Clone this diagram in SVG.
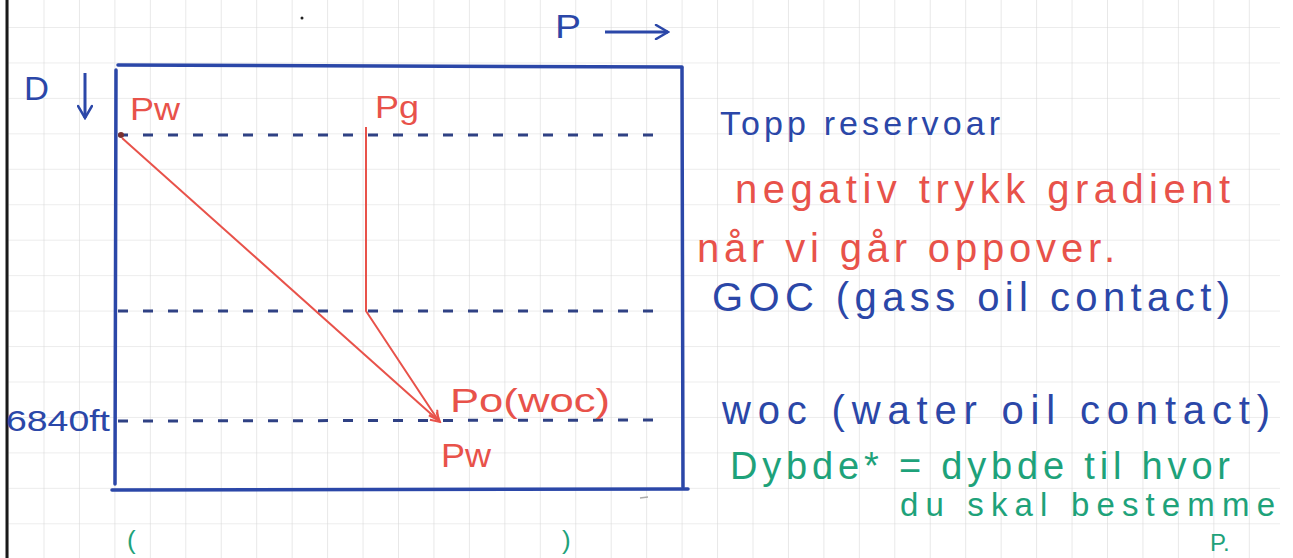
<svg xmlns="http://www.w3.org/2000/svg" width="1293" height="558" viewBox="0 0 1293 558">
<defs>
<pattern id="grid" patternUnits="userSpaceOnUse" x="8.05" y="-8.45" width="35.45" height="35.45">
<path d="M0 0H35.45M0 0V35.45" fill="none" stroke="#d9d9d9" stroke-width="1.2"/>
</pattern>
<marker id="ahRed" viewBox="0 0 12 12" refX="10" refY="6" markerWidth="12" markerHeight="12" markerUnits="userSpaceOnUse" orient="auto">
<path d="M1 1L10 6L1 11" fill="none" stroke="#e8524a" stroke-width="2"/>
</marker>
<marker id="ahBlue" viewBox="0 0 16 16" refX="14" refY="8" markerWidth="16" markerHeight="16" markerUnits="userSpaceOnUse" orient="auto">
<path d="M2 1L14 8L2 15" fill="none" stroke="#2b47a8" stroke-width="2.5" stroke-linecap="round"/>
</marker>
</defs>
<style>
text{font-family:"Liberation Sans","DejaVu Sans",sans-serif}
.blue{fill:#2b47a8}
.red{fill:#e8524a}
.green{fill:#1ea27a}
.box{stroke:#2b47a8;stroke-width:3.5;fill:none;stroke-linecap:round}
.dash{stroke:#2f4184;stroke-width:3;stroke-dasharray:10 15;fill:none}
.redl{stroke:#e8524a;stroke-width:2;fill:none}
</style>
<rect width="1293" height="558" fill="#ffffff"/>
<rect x="8" y="0" width="1272" height="558" fill="url(#grid)"/>
<line x1="7" y1="0" x2="7" y2="558" stroke="#1a1a1a" stroke-width="3"/>
<circle cx="302" cy="18" r="1.5" fill="#222"/>
<line x1="640" y1="498" x2="648" y2="497" stroke="#aaa" stroke-width="1.5"/>

<g id="reservoir-box">
<line class="box" x1="118" y1="65" x2="682" y2="67"/>
<line class="box" x1="116" y1="70" x2="115" y2="484"/>
<line class="box" x1="682" y1="68" x2="683" y2="487"/>
<line class="box" x1="112" y1="490" x2="688" y2="489"/>
</g>

<g id="axis-p">
<text class="blue" x="555" y="38" font-size="34" textLength="26" lengthAdjust="spacingAndGlyphs">P</text>
</g>
<g id="axis-d">
<text class="blue" x="24" y="100" font-size="34" textLength="25" lengthAdjust="spacingAndGlyphs">D</text>
</g>

<g id="level-top">
<line class="dash" x1="118" y1="135" x2="668" y2="135"/>
<circle cx="121" cy="135" r="3" fill="#7a3030"/>
</g>
<g id="level-goc">
<line class="dash" x1="118" y1="311" x2="668" y2="311"/>
</g>
<g id="level-woc">
<line class="dash" x1="118" y1="421" x2="668" y2="420"/>
<text class="blue" x="6" y="431" font-size="30" textLength="104" lengthAdjust="spacingAndGlyphs">6840ft</text>
</g>

<g id="label-pw-top">
<text class="red" x="130" y="120" font-size="32" textLength="50" lengthAdjust="spacingAndGlyphs">Pw</text>
</g>
<g id="label-pg">
<text class="red" x="375" y="118" font-size="32" textLength="44" lengthAdjust="spacingAndGlyphs">Pg</text>
</g>
<g id="label-po">
<text class="red" x="450" y="412" font-size="34" textLength="160" lengthAdjust="spacingAndGlyphs">Po(woc)</text>
</g>
<g id="label-pw-bottom">
<text class="red" x="441" y="467" font-size="34" textLength="50" lengthAdjust="spacingAndGlyphs">Pw</text>
</g>

<g id="connectors">
<line x1="605" y1="32" x2="668" y2="32" stroke="#2b47a8" stroke-width="3" marker-end="url(#ahBlue)"/>
<line x1="85" y1="73" x2="85" y2="118" stroke="#2b47a8" stroke-width="3" marker-end="url(#ahBlue)"/>
<line class="redl" x1="122" y1="138" x2="440" y2="422" marker-end="url(#ahRed)"/>
<polyline class="redl" points="366,127 366,311 438,420" marker-end="url(#ahRed)"/>
</g>

<g id="notes">
<text class="blue" x="720" y="135" font-size="34" textLength="280" lengthAdjust="spacing">Topp reservoar</text>
<text class="red" x="735" y="203" font-size="40" textLength="495" lengthAdjust="spacing">negativ trykk gradient</text>
<text class="red" x="697" y="262" font-size="40" textLength="418" lengthAdjust="spacing">når vi går oppover.</text>
<text class="blue" x="712" y="311" font-size="40" textLength="518" lengthAdjust="spacing">GOC (gass oil contact)</text>
<text class="blue" x="722" y="424" font-size="40" textLength="548" lengthAdjust="spacing">woc (water oil contact)</text>
<text class="green" x="730" y="479" font-size="38" textLength="500" lengthAdjust="spacing">Dybde* = dybde til hvor</text>
<text class="green" x="900" y="516" font-size="33" textLength="375" lengthAdjust="spacing">du skal bestemme</text>
<text class="green" x="1210" y="551" font-size="24">P.</text>
<text class="green" x="127" y="549" font-size="26">(</text>
<text class="green" x="562" y="549" font-size="26">)</text>
</g>
</svg>
